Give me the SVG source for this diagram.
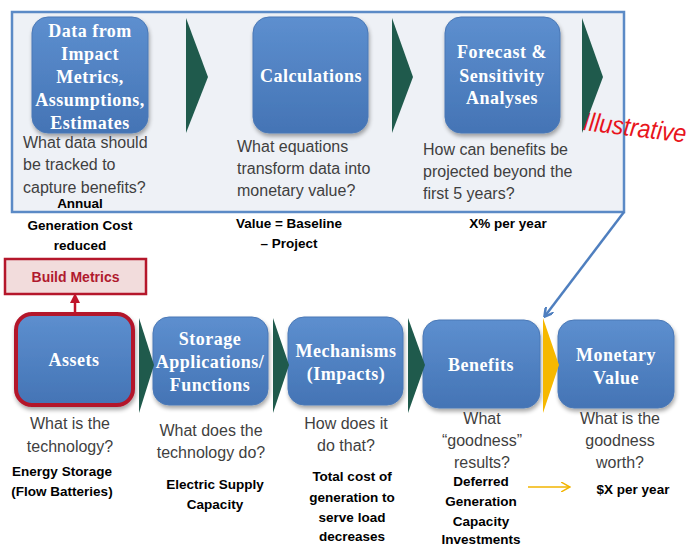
<svg xmlns="http://www.w3.org/2000/svg" width="694" height="548" viewBox="0 0 694 548">
<defs>
<linearGradient id="bg" x1="0" y1="0" x2="0" y2="1">
<stop offset="0" stop-color="#5d8fcf"/>
<stop offset="1" stop-color="#4474b5"/>
</linearGradient>
<filter id="sh" x="-10%" y="-10%" width="125%" height="130%">
<feGaussianBlur in="SourceAlpha" stdDeviation="2"/>
<feOffset dx="1" dy="3" result="o"/>
<feComponentTransfer><feFuncA type="linear" slope="0.35"/></feComponentTransfer>
<feMerge><feMergeNode/><feMergeNode in="SourceGraphic"/></feMerge>
</filter>
<marker id="blueArrow" markerWidth="10" markerHeight="10" refX="8" refY="5" orient="auto" markerUnits="userSpaceOnUse">
<path d="M0,0 L9,5 L0,10" fill="none" stroke="#4f7fbf" stroke-width="2.5"/>
</marker>
<marker id="redArrow" markerWidth="10" markerHeight="10" refX="5" refY="5" orient="auto" markerUnits="userSpaceOnUse">
<path d="M0,0 L10,5 L0,10 Z" fill="#c0142a"/>
</marker>
<marker id="yelArrow" markerWidth="10" markerHeight="10" refX="8" refY="5" orient="auto" markerUnits="userSpaceOnUse">
<path d="M0,0 L9,5 L0,10" fill="none" stroke="#f2b400" stroke-width="1.5"/>
</marker>
</defs>
<style>
.box{fill:url(#bg);stroke:#4a78b6;stroke-width:1;filter:url(#sh)}
.bt{font-family:"Liberation Serif",serif;font-weight:bold;font-size:18px;fill:#ffffff;text-anchor:middle;letter-spacing:0.5px}
.q{font-family:"Liberation Sans",Arial,sans-serif;font-size:16px;fill:#3f3f3f}
.qc{text-anchor:middle}
.b{font-family:"Liberation Sans",Arial,sans-serif;font-size:13.5px;font-weight:bold;fill:#000;text-anchor:middle}
.chev{fill:#1f5a4c}
</style>
<rect width="694" height="548" fill="#ffffff"/>

<g id="panel">
<rect x="12" y="12" width="612" height="200" fill="#eef1f6" stroke="#5b8ac6" stroke-width="2.5"/>
</g>

<g id="data">
<rect class="box" x="32" y="17" width="116" height="116" rx="16"/>
<text class="bt" x="90" y="37">Data from</text>
<text class="bt" x="90" y="60">Impact</text>
<text class="bt" x="90" y="83">Metrics,</text>
<text class="bt" x="90" y="106">Assumptions,</text>
<text class="bt" x="90" y="129">Estimates</text>
<text class="q" x="23" y="148">What data should</text>
<text class="q" x="23" y="170">be tracked to</text>
<text class="q" x="23" y="193">capture benefits?</text>
<text class="b" x="80" y="208">Annual</text>
<text class="b" x="80" y="230">Generation Cost</text>
<text class="b" x="80" y="250">reduced</text>
</g>

<g id="calc">
<rect class="box" x="253" y="17" width="115" height="116" rx="16"/>
<text class="bt" x="311" y="82">Calculations</text>
<text class="q" x="237" y="152">What equations</text>
<text class="q" x="237" y="174">transform data into</text>
<text class="q" x="237" y="196">monetary value?</text>
<text class="b" x="289" y="228">Value = Baseline</text>
<text class="b" x="289" y="248">– Project</text>
</g>

<g id="forecast">
<rect class="box" x="445" y="17" width="115" height="116" rx="16"/>
<text class="bt" x="502" y="58">Forecast &amp;</text>
<text class="bt" x="502" y="82">Sensitivity</text>
<text class="bt" x="502" y="104">Analyses</text>
<text class="q" x="423" y="155">How can benefits be</text>
<text class="q" x="423" y="177">projected beyond the</text>
<text class="q" x="423" y="199">first 5 years?</text>
<text class="b" x="508" y="228">X% per year</text>
</g>

<g id="illustrative">
<text x="582" y="130" transform="rotate(7 582 130)" font-family="Liberation Sans,Arial,sans-serif" font-style="italic" font-size="26" fill="#e8141c" textLength="104" lengthAdjust="spacingAndGlyphs">Illustrative</text>
</g>

<g id="buildmetrics">
<rect x="5" y="259" width="141" height="35" fill="#f2dcdc" stroke="#b5172b" stroke-width="2.5"/>
<text x="75.5" y="282" font-family="Liberation Sans,Arial,sans-serif" font-weight="bold" font-size="14" fill="#b01a2e" text-anchor="middle">Build Metrics</text>
</g>

<g id="assets">
<rect x="16" y="314" width="117" height="91" rx="16" fill="url(#bg)" stroke="#b3152c" stroke-width="4" filter="url(#sh)"/>
<text class="bt" x="74" y="366">Assets</text>
<text class="q qc" x="70" y="429">What is the</text>
<text class="q qc" x="70" y="452">technology?</text>
<text class="b" x="62" y="476">Energy Storage</text>
<text class="b" x="62" y="496">(Flow Batteries)</text>
</g>

<g id="storage">
<rect class="box" x="153" y="317" width="115" height="88" rx="16"/>
<text class="bt" x="210" y="345">Storage</text>
<text class="bt" x="210" y="368">Applications/</text>
<text class="bt" x="210" y="391">Functions</text>
<text class="q qc" x="211" y="436">What does the</text>
<text class="q qc" x="211" y="458">technology do?</text>
<text class="b" x="215" y="489">Electric Supply</text>
<text class="b" x="215" y="509">Capacity</text>
</g>

<g id="mechanisms">
<rect class="box" x="288" y="317" width="115" height="88" rx="16"/>
<text class="bt" x="346" y="357">Mechanisms</text>
<text class="bt" x="346" y="380">(Impacts)</text>
<text class="q qc" x="346" y="429">How does it</text>
<text class="q qc" x="346" y="451">do that?</text>
<text class="b" x="352" y="481">Total cost of</text>
<text class="b" x="352" y="502">generation to</text>
<text class="b" x="352" y="522">serve load</text>
<text class="b" x="352" y="541">decreases</text>
</g>

<g id="benefits">
<rect class="box" x="423" y="320" width="117" height="88" rx="16"/>
<text class="bt" x="481" y="371">Benefits</text>
<text class="q qc" x="482" y="424">What</text>
<text class="q qc" x="482" y="446">“goodness”</text>
<text class="q qc" x="482" y="468">results?</text>
<text class="b" x="481" y="486">Deferred</text>
<text class="b" x="481" y="506">Generation</text>
<text class="b" x="481" y="526">Capacity</text>
<text class="b" x="481" y="544">Investments</text>
</g>

<g id="monetary">
<rect class="box" x="558" y="320" width="116" height="88" rx="16"/>
<text class="bt" x="616" y="361">Monetary</text>
<text class="bt" x="616" y="384">Value</text>
<text class="q qc" x="620" y="424">What is the</text>
<text class="q qc" x="620" y="446">goodness</text>
<text class="q qc" x="620" y="468">worth?</text>
<text class="b" x="633" y="494">$X per year</text>
</g>

<g id="connectors">
<polygon class="chev" points="186,18 208,77 186,133"/>
<polygon class="chev" points="392,18 413,77 392,133"/>
<polygon class="chev" points="582,18 603,77 582,133"/>
<polygon class="chev" points="139,318 154,365 139,413"/>
<polygon class="chev" points="273,318 289,365 273,413"/>
<polygon class="chev" points="408,318 425,365 408,413"/>
<polygon points="543,318 559,365 543,413" fill="#f6b800"/>
<line x1="624" y1="212" x2="545" y2="316" stroke="#4f7fbf" stroke-width="2.5" marker-end="url(#blueArrow)"/>
<line x1="75" y1="314" x2="75" y2="298" stroke="#c0142a" stroke-width="2.5" marker-end="url(#redArrow)"/>
<line x1="528" y1="487" x2="569" y2="487" stroke="#f2b400" stroke-width="1.5" marker-end="url(#yelArrow)"/>
</g>
</svg>
